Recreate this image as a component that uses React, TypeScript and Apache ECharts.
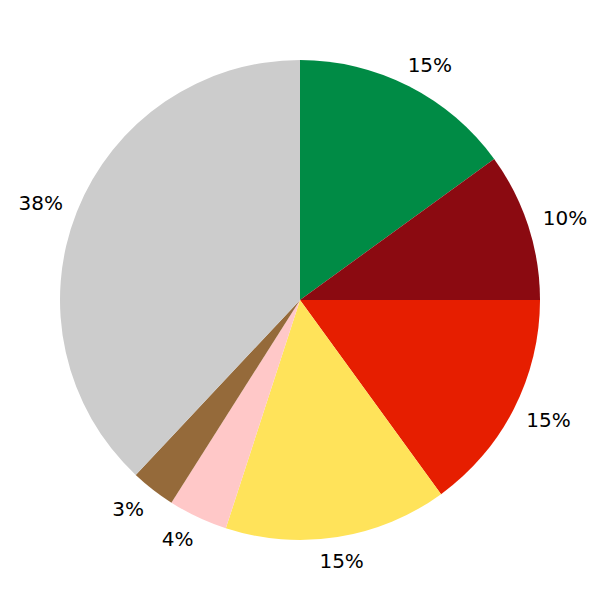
import React, { useEffect, useRef } from "react";
import * as echarts from "echarts";

const categories = ["A", "B", "C", "D", "E", "F", "G"];
const values = [15, 10, 15, 15, 4, 3, 38];
const colors = ["#008B45", "#8B0A11", "#E61E00", "#FFE35A", "#FFC8C8", "#956A3A", "#CCCCCC"];

const RADIUS = 240;

export default function App() {
  const ref = useRef<HTMLDivElement>(null);
  useEffect(() => {
    document.body.style.margin = "0";
    if (!ref.current) return;
    const chart = echarts.init(ref.current, undefined, { renderer: "svg" });
    const total = values.reduce((a, b) => a + b, 0);
    const midAngles: number[] = [];
    let acc = 0;
    values.forEach((v) => {
      midAngles.push(((acc + v / 2) / total) * Math.PI * 2);
      acc += v;
    });
    chart.setOption({
      animation: false,
      backgroundColor: "#ffffff",
      series: [
        {
          type: "pie",
          center: ["50%", "50%"],
          radius: RADIUS,
          startAngle: 90,
          clockwise: true,
          avoidLabelOverlap: false,
          data: categories.map((c, i) => ({ name: c, value: values[i], itemStyle: { color: colors[i] } })),
          label: {
            show: true,
            position: "outside",
            formatter: "{c}%",
            fontFamily: "DejaVu Sans",
            fontSize: 20,
            color: "#000000",
          },
          labelLine: { show: false },
          labelLayout: (params: any) => {
            const cx = chart.getWidth() / 2;
            const cy = chart.getHeight() / 2;
            const a = midAngles[params.dataIndex];
            const dx = Math.sin(a);
            const dy = -Math.cos(a);
            const r0 = RADIUS * 1.1;
            const adx = Math.abs(dx);
            const base = 10 * Math.min(1, Math.max(0, (adx - 0.15) / 0.2));
            const extra = 4 * Math.max(0, (adx - 0.6) / 0.35);
            const push = (base + extra) * Math.sign(dx);
            return {
              x: cx + r0 * dx + push,
              y: cy + r0 * dy,
              align: "center",
              verticalAlign: "middle",
            };
          },
        },
      ],
    });
    return () => chart.dispose();
  }, []);
  return <div ref={ref} style={{ position: "fixed", left: 0, top: 0, width: 600, height: 600 }} />;
}
